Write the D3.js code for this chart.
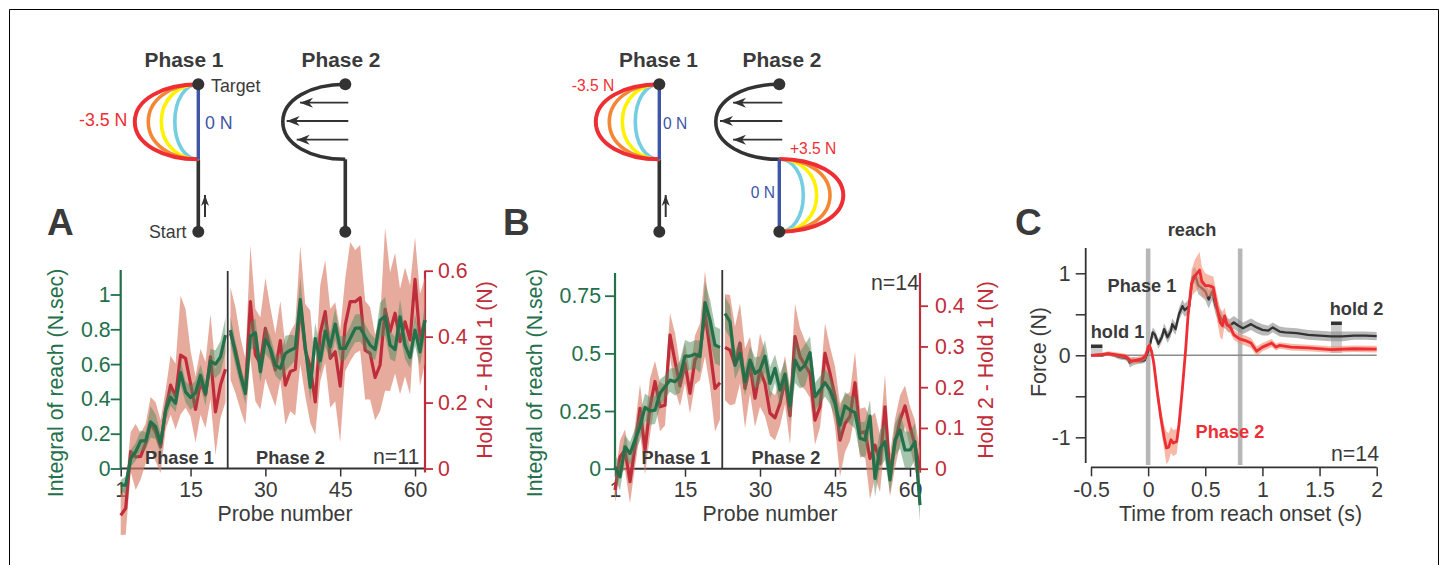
<!DOCTYPE html>
<html>
<head>
<meta charset="utf-8">
<script src="https://cdnjs.cloudflare.com/ajax/libs/d3/7.8.5/d3.min.js"></script>
<style>
html, body { margin: 0; padding: 0; background: #fff; overflow: hidden; }
svg { display: block; }
text { font-family: "Liberation Sans", Arial, sans-serif; fill: #3a3a3a; }
</style>
</head>
<body>
<div id="viz"></div>
<script>
// panel A, probes 1-22 and 23-62
var aGreen1 = [-0.096,-0.096,0.057,0.096,0.159,0.159,0.268,0.24,0.144,0.335,0.41,0.375,0.552,0.44,0.408,0.435,0.536,0.43,0.617,0.6,0.642,0.766];
var aGreen2 = [0.795,0.661,0.536,0.431,0.761,0.78,0.556,0.741,0.69,0.594,0.575,0.661,0.68,0.693,0.971,0.699,0.466,0.747,0.619,0.789,0.699,0.83,0.69,0.69,0.747,0.805,0.808,0.757,0.709,0.684,0.852,0.875,0.709,0.684,0.872,0.709,0.638,0.795,0.67,0.852];
var aRed1 = [-0.142,-0.121,0.051,0.035,0.037,0.076,0.137,0.111,0.066,0.177,0.253,0.218,0.344,0.334,0.258,0.179,0.263,0.223,0.339,0.172,0.253,0.301];
var aRed2 = [0.41,0.359,0.288,0.233,0.506,0.344,0.319,0.425,0.359,0.299,0.388,0.253,0.294,0.301,0.496,0.359,0.309,0.202,0.41,0.476,0.334,0.354,0.25,0.435,0.506,0.506,0.518,0.359,0.349,0.276,0.314,0.483,0.415,0.471,0.385,0.445,0.39,0.574,0.39,0.45];
var aGreenErr1 = [0.03,0.05,0.05,0.05,0.06,0.05,0.09,0.07,0.06,0.06,0.05,0.05,0.07,0.06,0.07,0.07,0.06,0.07,0.07,0.08,0.09,0.1];
var aGreenErr2 = [0.08,0.07,0.06,0.06,0.08,0.08,0.06,0.08,0.07,0.06,0.07,0.1,0.09,0.07,0.13,0.07,0.08,0.09,0.07,0.09,0.08,0.09,0.07,0.07,0.07,0.08,0.08,0.07,0.07,0.06,0.1,0.11,0.08,0.07,0.1,0.08,0.06,0.09,0.08,0.09];
var aRedErr1 = [0.06,0.08,0.06,0.1,0.07,0.06,0.08,0.09,0.08,0.06,0.09,0.1,0.18,0.15,0.1,0.1,0.1,0.1,0.13,0.13,0.1,0.1];
var aRedErr2 = [0.14,0.13,0.11,0.1,0.172,0.14,0.14,0.153,0.13,0.11,0.12,0.12,0.12,0.14,0.18,0.14,0.17,0.1,0.146,0.156,0.15,0.15,0.17,0.14,0.181,0.157,0.16,0.15,0.14,0.13,0.14,0.247,0.18,0.183,0.16,0.165,0.166,0.128,0.14,0.13];

// panel B
var bGreen1 = [0.009,-0.035,0.095,0.066,0.124,0.182,0.266,0.25,0.254,0.327,0.355,0.384,0.377,0.399,0.488,0.488,0.497,0.486,0.72,0.645,0.536,0.526];
var bGreen2 = [0.673,0.637,0.449,0.5,0.377,0.471,0.413,0.428,0.488,0.37,0.435,0.341,0.41,0.272,0.471,0.428,0.449,0.503,0.312,0.341,0.373,0.341,0.283,0.189,0.272,0.254,0.243,0.132,0.124,0.228,-0.042,0.088,0.117,-0.049,0.124,0.168,0.081,0.081,0.117,-0.158];
var bRed1 = [-0.052,0.029,0.046,-0.032,0.054,0.148,0.046,0.152,0.214,0.152,0.156,0.328,0.263,0.203,0.259,0.185,0.267,0.287,0.381,0.291,0.197,0.211];
var bRed2 = [0.298,0.291,0.254,0.308,0.197,0.254,0.173,0.242,0.209,0.136,0.125,0.16,0.218,0.13,0.324,0.275,0.254,0.234,0.119,0.152,0.283,0.234,0.177,0.07,0.111,0.128,0.211,0.087,0.091,0.025,0.058,0.013,0.152,-0.016,0.062,0.119,0.154,0.103,0.058,-0.003];
var bGreenErr1 = [0.05,0.06,0.05,0.05,0.05,0.06,0.06,0.06,0.06,0.06,0.05,0.05,0.06,0.07,0.07,0.06,0.06,0.07,0.09,0.09,0.08,0.08];
var bGreenErr2 = [0.07,0.07,0.06,0.06,0.06,0.06,0.07,0.06,0.07,0.07,0.06,0.07,0.06,0.07,0.1,0.08,0.09,0.07,0.06,0.06,0.06,0.06,0.06,0.07,0.06,0.06,0.07,0.07,0.08,0.07,0.08,0.08,0.08,0.06,0.07,0.08,0.08,0.08,0.08,0.07];
var bRedErr1 = [0.03,0.04,0.05,0.053,0.05,0.06,0.06,0.07,0.05,0.06,0.05,0.053,0.07,0.05,0.05,0.05,0.06,0.07,0.105,0.09,0.106,0.09];
var bRedErr2 = [0.13,0.135,0.095,0.098,0.098,0.07,0.07,0.09,0.08,0.055,0.055,0.055,0.06,0.07,0.08,0.07,0.06,0.06,0.06,0.05,0.074,0.065,0.074,0.09,0.07,0.06,0.076,0.06,0.06,0.1,0.08,0.07,0.08,0.053,0.06,0.06,0.05,0.05,0.06,0.05];

// panel C
var cBlackT = [-0.5,-0.4,-0.35,-0.3,-0.25,-0.2,-0.175,-0.16,-0.13,-0.1,-0.05,-0.03,0,0.02,0.04,0.06,0.09,0.12,0.14,0.17,0.2,0.21,0.24,0.27,0.3,0.32,0.36,0.39,0.41,0.44,0.47,0.5,0.53,0.56,0.59,0.62,0.65,0.68,0.71,0.75,0.79,0.83,0.9,0.95,1,1.05,1.09,1.15,1.2,1.3,1.4,1.5,1.6,1.7,1.8,1.9,2];
var cBlack = [0,0,0.02,0,-0.02,-0.03,-0.05,-0.09,-0.07,-0.07,-0.07,-0.06,0.05,0.15,0.28,0.25,0.14,0.22,0.32,0.22,0.3,0.38,0.32,0.5,0.6,0.55,0.6,0.95,0.98,0.85,0.82,0.78,0.68,0.78,0.6,0.5,0.42,0.4,0.36,0.4,0.36,0.33,0.38,0.34,0.31,0.3,0.34,0.29,0.28,0.27,0.25,0.24,0.23,0.23,0.24,0.24,0.235];
var cBlackErr = [0.01,0.02,0.02,0.02,0.03,0.03,0.04,0.06,0.05,0.04,0.03,0.03,0.04,0.05,0.06,0.06,0.06,0.06,0.07,0.07,0.07,0.07,0.07,0.08,0.08,0.08,0.09,0.1,0.1,0.11,0.11,0.11,0.11,0.11,0.1,0.09,0.08,0.08,0.08,0.08,0.08,0.07,0.07,0.07,0.07,0.06,0.06,0.06,0.06,0.06,0.06,0.06,0.06,0.06,0.05,0.05,0.05];
var cRedT = [-0.5,-0.4,-0.35,-0.3,-0.2,-0.15,-0.1,-0.05,-0.02,0,0.01,0.03,0.05,0.08,0.11,0.14,0.16,0.18,0.2,0.22,0.25,0.27,0.3,0.33,0.35,0.38,0.41,0.45,0.47,0.5,0.53,0.57,0.6,0.63,0.65,0.67,0.69,0.72,0.75,0.8,0.85,0.9,0.95,1,1.05,1.08,1.12,1.15,1.25,1.4,1.6,1.8,2];
var cRed = [0,0.01,0.02,0.01,-0.01,-0.07,-0.06,-0.04,0,0.1,0.12,0.05,-0.1,-0.45,-0.75,-1,-1.13,-1.12,-1.03,-1.07,-1.05,-0.85,-0.4,0.1,0.5,0.88,0.97,1.04,0.9,0.85,0.85,0.83,0.6,0.4,0.36,0.48,0.37,0.34,0.25,0.2,0.18,0.15,0.05,0.1,0.13,0.15,0.1,0.12,0.1,0.09,0.07,0.08,0.075];
var cRedErr = [0.01,0.02,0.03,0.03,0.03,0.04,0.04,0.04,0.05,0.05,0.05,0.06,0.08,0.1,0.12,0.15,0.2,0.17,0.16,0.16,0.15,0.12,0.1,0.1,0.12,0.16,0.2,0.22,0.18,0.15,0.13,0.13,0.15,0.18,0.17,0.1,0.08,0.07,0.06,0.06,0.06,0.06,0.06,0.05,0.05,0.05,0.04,0.04,0.04,0.04,0.04,0.04,0.04];

var probeTicks = [1, 15, 30, 45, 60];
var aLeftTicks = [0, 0.2, 0.4, 0.6, 0.8, 1];
var aRightTicks = [0, 0.2, 0.4, 0.6];
var bLeftTicks = [0, 0.25, 0.5, 0.75];
var bRightTicks = [0, 0.1, 0.2, 0.3, 0.4];
var cXTicks = [-0.5, 0, 0.5, 1, 1.5, 2];
var cYTicks = [-1, -0.5, 0, 0.5, 1];
var cYLabels = ['-1', '', '0', '', '1'];

var GREEN = '#23704a';
var CRIMSON = '#bf2d3b';
var DARK = '#333333';
var RED = '#ee2e33';
var BLUE = '#3f55a5';
var FONT = 21.3;

var svg = d3.select('#viz').append('svg').attr('width', 1442).attr('height', 565);

svg.append('path')
    .attr('d', 'M9.5,570 V9.5 H1438.5 V570')
    .attr('fill', 'none').attr('stroke', '#000').attr('stroke-width', 1);

function label(x, y, str, size, opts) {
    opts = opts || {};
    var t = svg.append('text')
        .attr('x', x).attr('y', y)
        .attr('font-size', size)
        .attr('text-anchor', opts.anchor || 'start')
        .style('fill', opts.color || '#3a3a3a')
        .style('font-weight', opts.bold ? 'bold' : 'normal')
        .text(str);
    if (opts.rotate) t.attr('transform', 'rotate(-90,' + x + ',' + y + ')');
    return t;
}

function styleAxis(g, color, width, textColor) {
    g.select('.domain').remove();
    g.selectAll('line').attr('stroke', color).attr('stroke-width', width);
    g.selectAll('text')
        .attr('font-size', FONT)
        .style('fill', textColor || color);
}

function series(g, x, y, vals, errs, first, color, band, bandOpacity, lineWidth) {
    var rows = vals.map(function (v, i) {
        return { p: first + i, v: v, e: errs[i] };
    });
    var area = d3.area()
        .x(function (d) { return x(d.p); })
        .y0(function (d) { return y(d.v - d.e); })
        .y1(function (d) { return y(d.v + d.e); });
    var line = d3.line()
        .x(function (d) { return x(d.p); })
        .y(function (d) { return y(d.v); });
    return { rows: rows, area: area, line: line, color: color, band: band, op: bandOpacity, w: lineWidth, g: g };
}

function drawBand(s) {
    s.g.append('path').attr('d', s.area(s.rows)).attr('fill', s.band).attr('fill-opacity', s.op);
}
function drawLine(s) {
    s.g.append('path').attr('d', s.line(s.rows)).attr('fill', 'none')
        .attr('stroke', s.color).attr('stroke-width', s.w).attr('stroke-linejoin', 'round');
}

function probePanel(c) {
    var x = d3.scaleLinear().domain([1, 62]).range([c.left, c.right]);
    var yL = d3.scaleLinear().domain(c.leftDomain).range([c.zero, c.leftTop]);
    var yR = d3.scaleLinear().domain(c.rightDomain).range([c.zero, c.rightTop]);
    var g = svg.append('g');

    // axes go below the traces
    var xa = g.append('g').attr('transform', 'translate(0,' + c.zero + ')')
        .call(d3.axisBottom(x).tickValues(probeTicks).tickSize(8).tickPadding(4).tickFormat(d3.format('d')));
    styleAxis(xa, DARK, 1.5, '#3a3a3a');
    xa.selectAll('text').attr('dy', null).attr('y', 28.5);
    g.append('line').attr('x1', c.left).attr('x2', c.right)
        .attr('y1', c.zero).attr('y2', c.zero)
        .attr('stroke', DARK).attr('stroke-width', 2);

    var la = g.append('g').attr('transform', 'translate(' + c.left + ',0)')
        .call(d3.axisLeft(yL).tickValues(c.leftTicks).tickSize(10).tickPadding(c.leftPad).tickFormat(function (d) { return String(d); }));
    styleAxis(la, GREEN, 1.8);
    la.selectAll('text').attr('dy', '0.33em');
    g.append('line').attr('x1', c.left).attr('x2', c.left)
        .attr('y1', c.axisTopL).attr('y2', c.zero + 1)
        .attr('stroke', GREEN).attr('stroke-width', 2.2);

    var ra = g.append('g').attr('transform', 'translate(' + c.right + ',0)')
        .call(d3.axisRight(yR).tickValues(c.rightTicks).tickSize(8).tickPadding(c.rightPad).tickFormat(function (d) { return String(d); }));
    styleAxis(ra, CRIMSON, 1.8);
    ra.selectAll('text').attr('dy', '0.33em');
    g.append('line').attr('x1', c.right).attr('x2', c.right)
        .attr('y1', c.axisTopR).attr('y2', c.zero + 4)
        .attr('stroke', CRIMSON).attr('stroke-width', 2.2);

    [[c.red1, c.redErr1, 1], [c.red2, c.redErr2, 23]].forEach(function (r) {
        drawBand(series(g, x, yR, r[0], r[1], r[2], CRIMSON, '#d9806a', 0.66, 3.2));
    });
    [[c.red1, c.redErr1, 1], [c.red2, c.redErr2, 23]].forEach(function (r) {
        drawLine(series(g, x, yR, r[0], r[1], r[2], CRIMSON, '#d9806a', 0.66, 3.2));
    });
    [[c.green1, c.greenErr1, 1], [c.green2, c.greenErr2, 23]].forEach(function (r) {
        drawBand(series(g, x, yL, r[0], r[1], r[2], GREEN, '#4f8a5c', 0.5, 3.2));
    });
    [[c.green1, c.greenErr1, 1], [c.green2, c.greenErr2, 23]].forEach(function (r) {
        drawLine(series(g, x, yL, r[0], r[1], r[2], GREEN, '#4f8a5c', 0.5, 3.2));
    });

    g.append('line').attr('x1', x(22.45)).attr('x2', x(22.45))
        .attr('y1', c.dividerTop).attr('y2', c.zero)
        .attr('stroke', DARK).attr('stroke-width', 1.8);
}

probePanel({
    left: 120.7, right: 425, zero: 468.5,
    leftDomain: [0, 1], leftTop: 294.5, rightDomain: [0, 0.6], rightTop: 270.7,
    leftTicks: aLeftTicks, rightTicks: aRightTicks, leftPad: 0, rightPad: 5,
    axisTopL: 270, axisTopR: 270.7, dividerTop: 271,
    green1: aGreen1, green2: aGreen2, red1: aRed1, red2: aRed2,
    greenErr1: aGreenErr1, greenErr2: aGreenErr2, redErr1: aRedErr1, redErr2: aRedErr2
});

probePanel({
    left: 615, right: 920, zero: 468.7,
    leftDomain: [0, 0.75], leftTop: 295.7, rightDomain: [0, 0.4], rightTop: 305.7,
    leftTicks: bLeftTicks, rightTicks: bRightTicks, leftPad: 4, rightPad: 7,
    axisTopL: 273, axisTopR: 273, dividerTop: 270,
    green1: bGreen1, green2: bGreen2, red1: bRed1, red2: bRed2,
    greenErr1: bGreenErr1, greenErr2: bGreenErr2, redErr1: bRedErr1, redErr2: bRedErr2
});

// panel C
(function () {
    var x = d3.scaleLinear().domain([-0.5, 2]).range([1091, 1376.7]);
    var y = d3.scaleLinear().domain([-1, 1]).range([437.3, 273.3]);
    var g = svg.append('g');

    function shade(t0, t1, y0, y1, color) {
        g.append('rect').attr('x', x(t0)).attr('width', x(t1) - x(t0))
            .attr('y', y0).attr('height', y1 - y0).attr('fill', color);
    }
    shade(-0.02, 0.02, 248.5, 465, '#b7b7b7');
    shade(0.785, 0.825, 248.5, 465, '#b7b7b7');
    shade(-0.5, -0.4, 348, 355, '#cccccc');
    shade(1.6, 1.695, 325, 353, '#cccccc');
    shade(-0.5, -0.4, 344.5, 348, DARK);
    shade(1.6, 1.695, 321.5, 325, DARK);

    g.append('line').attr('x1', x(-0.5)).attr('x2', x(2))
        .attr('y1', y(0)).attr('y2', y(0))
        .attr('stroke', '#8c8c8c').attr('stroke-width', 1.5);

    var xa = g.append('g').attr('transform', 'translate(0,467.3)')
        .call(d3.axisBottom(x).tickValues(cXTicks).tickSize(9).tickFormat(function (d) { return String(d); }));
    styleAxis(xa, DARK, 1.5, '#3a3a3a');
    xa.selectAll('text').attr('dy', null).attr('y', 29.5);
    g.append('line').attr('x1', x(-0.5)).attr('x2', x(2)).attr('y1', 467.3).attr('y2', 467.3)
        .attr('stroke', DARK).attr('stroke-width', 1.8);

    var ya = g.append('g').attr('transform', 'translate(1085.7,0)')
        .call(d3.axisLeft(y).tickValues(cYTicks).tickSize(10).tickPadding(5)
            .tickFormat(function (d, i) { return cYLabels[i]; }));
    styleAxis(ya, DARK, 1.5, '#3a3a3a');
    ya.selectAll('text').attr('dy', '0.33em');
    g.append('line').attr('x1', 1085.7).attr('x2', 1085.7).attr('y1', 248).attr('y2', 463)
        .attr('stroke', DARK).attr('stroke-width', 1.8);

    function trace(ts, vals, errs, band, op, color, w) {
        var rows = ts.map(function (t, i) { return { t: t, v: vals[i], e: errs[i] }; });
        g.append('path')
            .attr('d', d3.area()
                .x(function (d) { return x(d.t); })
                .y0(function (d) { return y(d.v - d.e); })
                .y1(function (d) { return y(d.v + d.e); })(rows))
            .attr('fill', band).attr('fill-opacity', op);
        g.append('path')
            .attr('d', d3.line()
                .x(function (d) { return x(d.t); })
                .y(function (d) { return y(d.v); })(rows))
            .attr('fill', 'none').attr('stroke', color).attr('stroke-width', w)
            .attr('stroke-linejoin', 'round');
    }
    trace(cBlackT, cBlack, cBlackErr, '#8a8a8a', 0.6, DARK, 2.3);
    trace(cRedT, cRed, cRedErr, '#f28a6e', 0.6, RED, 2.8);
})();

// schematics
function bulge(x0, y0, h, w) {
    // half-oval from (x0,y0) down to (x0,y0+h), w < 0 goes left
    return 'M' + x0 + ',' + y0 +
        ' C' + (x0 + 0.55 * w) + ',' + y0 + ' ' + (x0 + w) + ',' + (y0 + 0.2 * h) + ' ' + (x0 + w) + ',' + (y0 + 0.5 * h) +
        ' C' + (x0 + w) + ',' + (y0 + 0.8 * h) + ' ' + (x0 + 0.55 * w) + ',' + (y0 + h) + ' ' + x0 + ',' + (y0 + h);
}

function fan(x0, y0, h, widths) {
    var cols = ['#74cde0', '#fff200', '#f58634', RED];
    widths.forEach(function (w, i) {
        svg.append('path').attr('d', bulge(x0, y0, h, w))
            .attr('fill', 'none').attr('stroke', cols[i]).attr('stroke-width', i === 3 ? 4 : 3.6);
    });
    svg.append('line').attr('x1', x0).attr('x2', x0).attr('y1', y0).attr('y2', y0 + h)
        .attr('stroke', BLUE).attr('stroke-width', 3.4);
}

function dot(x0, y0) {
    svg.append('circle').attr('cx', x0).attr('cy', y0).attr('r', 6).attr('fill', DARK);
}

function arrow(x1, y1, x2, y2, headLen, headW, w) {
    svg.append('line').attr('x1', x1).attr('y1', y1).attr('x2', x2).attr('y2', y2)
        .attr('stroke', DARK).attr('stroke-width', w);
    var a = Math.atan2(y2 - y1, x2 - x1), c = Math.cos(a), s = Math.sin(a);
    var bx = x2 - headLen * c, by = y2 - headLen * s;
    var nx = x2 - headLen * 0.7 * c, ny = y2 - headLen * 0.7 * s;
    svg.append('path')
        .attr('d', 'M' + x2 + ',' + y2 + ' L' + (bx - headW * s) + ',' + (by + headW * c) +
            ' L' + nx + ',' + ny + ' L' + (bx + headW * s) + ',' + (by - headW * c) + 'Z')
        .attr('fill', DARK);
}

function phase2(x0, w, arrowTips) {
    svg.append('path').attr('d', bulge(x0, 84.3, 75, w))
        .attr('fill', 'none').attr('stroke', DARK).attr('stroke-width', 3.6);
    [102.7, 121, 139.7].forEach(function (yy, i) {
        arrow(x0 + 3, yy, arrowTips[i], yy, 13, 5, 1.8);
    });
    dot(x0, 84.3);
}

// A schematic
svg.append('line').attr('x1', 198.3).attr('x2', 198.3).attr('y1', 159.3).attr('y2', 231.7)
    .attr('stroke', DARK).attr('stroke-width', 3.6);
fan(198.3, 84.3, 75, [-23.5, -37, -50, -63.5]);
dot(198.3, 84.3); dot(198.3, 231.7);
arrow(205, 217, 205, 195, 11, 4, 2);
phase2(345.3, -62.5, [300, 286.7, 296.7]);
svg.append('line').attr('x1', 345.3).attr('x2', 345.3).attr('y1', 159.3).attr('y2', 231.7)
    .attr('stroke', DARK).attr('stroke-width', 3.6);
dot(345.3, 231.7);

// B schematic
svg.append('line').attr('x1', 659.3).attr('x2', 659.3).attr('y1', 159.3).attr('y2', 231.7)
    .attr('stroke', DARK).attr('stroke-width', 3.6);
fan(659.3, 84.3, 75, [-24, -37, -50, -63.5]);
dot(659.3, 84.3); dot(659.3, 231.7);
arrow(665.7, 217, 665.7, 195, 11, 4, 2);
phase2(779.3, -63.5, [733, 720, 733]);
fan(779.3, 159, 72.7, [24, 37.4, 50.7, 64]);
dot(779.3, 231.7);

// text
var B = { bold: true, anchor: 'middle' };
label(184, 66.7, 'Phase 1', 20.9, B);
label(341, 66.7, 'Phase 2', 20.9, B);
label(658.5, 66.7, 'Phase 1', 20.9, B);
label(782, 66.7, 'Phase 2', 20.9, B);
label(211, 91.7, 'Target', 17.8);
label(149, 238, 'Start', 17.8);
label(79, 126, '-3.5 N', 17.8, { color: RED });
label(205, 128.7, '0 N', 17.8, { color: BLUE });
label(571.7, 90.7, '-3.5 N', 15.6, { color: RED });
label(663, 128.7, '0 N', 15.6, { color: BLUE });
label(790, 154, '+3.5 N', 15.6, { color: RED });
label(750.7, 198, '0 N', 15.6, { color: BLUE });

label(47, 235, 'A', 37, { bold: true });
label(503, 235, 'B', 37, { bold: true });
label(1015, 235, 'C', 37, { bold: true });

label(63, 383, 'Integral of reach (N.sec)', FONT, { color: GREEN, rotate: true, anchor: 'middle' });
label(492, 370, 'Hold 2 - Hold 1 (N)', FONT, { color: CRIMSON, rotate: true, anchor: 'middle' });
label(285, 521, 'Probe number', FONT, { anchor: 'middle' });
label(179.5, 464, 'Phase 1', 18.2, B);
label(290.5, 464, 'Phase 2', 18.2, B);
label(373, 464, 'n=11', FONT);

label(542, 383, 'Integral of reach (N.sec)', FONT, { color: GREEN, rotate: true, anchor: 'middle' });
label(992.7, 370, 'Hold 2 - Hold 1 (N)', FONT, { color: CRIMSON, rotate: true, anchor: 'middle' });
label(770, 521, 'Probe number', FONT, { anchor: 'middle' });
label(676, 464, 'Phase 1', 18.2, B);
label(786, 464, 'Phase 2', 18.2, B);
label(871, 290, 'n=14', FONT);

label(1192, 236, 'reach', 18.2, B);
label(1142, 292, 'Phase 1', 18.2, B);
label(1117.5, 338, 'hold 1', 18.2, B);
label(1356.5, 315, 'hold 2', 18.2, B);
label(1230, 438, 'Phase 2', 18.2, { bold: true, anchor: 'middle', color: RED });
label(1331, 461, 'n=14', FONT);
label(1240.5, 521, 'Time from reach onset (s)', FONT, { anchor: 'middle' });
label(1046, 352, 'Force (N)', FONT, { rotate: true, anchor: 'middle' });
</script>
</body>
</html>
